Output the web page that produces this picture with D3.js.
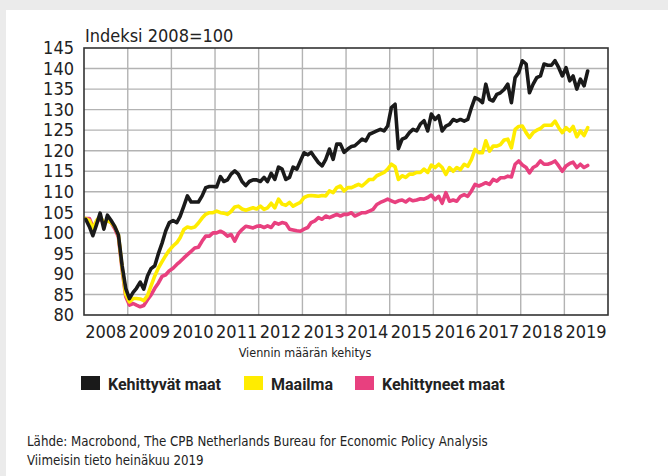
<!DOCTYPE html>
<html>
<head>
<meta charset="utf-8">
<script src="https://cdn.jsdelivr.net/npm/d3@7"></script>
<style>
body { margin: 0; background: #ebebeb; }
text { font-family: "DejaVu Sans Condensed", "Roboto", sans-serif; fill: #222; }
</style>
</head>
<body>
<div id="root"></div>
<script>
var width = 668;
var height = 476;

// monthly data, Jan 2008 - Jul 2019
var startYear = 2008;
var years = ["2008","2009","2010","2011","2012","2013","2014","2015","2016","2017","2018","2019"];
var yTicks = [80,85,90,95,100,105,110,115,120,125,130,135,140,145];

var kehittyvat = [
103.3,101.5,99.3,102,104.8,100.9,104.3,103,101.5,99.5,92,86.5,
84,85.5,86.5,88,86.3,89.5,91.3,92,95,97.5,100.5,102.5,
103,102.5,104,106.5,109,107.5,107.5,107.5,109,111,111.3,111.3,
111.2,113.7,112.5,112.9,114.3,115.1,114.3,112.5,111.5,112.5,112.9,112.9,
112.5,113.5,112.5,114.5,113,116,115.5,113,113.5,116,115.5,117.5,
119.5,119,119.6,118.3,117.1,116.3,117.9,120.4,117.9,121.6,121.6,119.6,
120.4,121,121.2,122,122.8,122.4,124,124.4,124.8,125.2,124.8,126,
130.5,131.3,120.5,122.8,123.2,124.4,125.2,124.8,126.5,127.3,124.8,128.9,
127.6,128.5,124.8,126,126.4,127.6,127.2,127.6,127.2,127.6,130.5,132.9,
132.5,131.7,136.2,132.5,132.1,133.7,134.1,134.9,136.2,131.7,137.8,139,
141.9,141.1,134.1,136.2,137.8,138.2,141.1,140.8,140.8,141.9,140.2,138.2,
140.2,137,138.2,135,137.4,135.8,139.4
];

var maailma = [
103.5,103,101,103,104,102.5,103,102.5,101.5,99.5,91.5,85,
83.2,84,84,83.9,83.5,84.7,87.1,89.5,91.5,93,94.5,95.8,
96.8,97.6,98.8,100.8,101.4,101.2,101.4,102.4,103.6,104.5,104.9,104.9,
105.3,104.9,104.8,104.5,105.2,106.3,106.5,105.8,105.5,105.8,106.1,105.8,
106.5,105.7,106.1,107.2,106.1,108.2,107,106.7,107.4,106.5,107,107.4,
108.6,109,109.1,109,108.9,109.1,109,110.2,109.8,111,111.4,110.2,
111,111,111.4,111.8,111.4,112.2,113,113,113.9,114.3,114.7,115.5,
116.7,116.1,113,113.9,113.5,114.3,114.3,114.7,114.7,115.5,114.7,116.5,
115.9,116.7,115.9,114.2,115.9,115,115.9,115.4,116.7,116.2,117.9,120.3,
119.5,119.5,122.4,119.9,121.1,121.1,121.5,122.6,122.8,120.7,125.2,125.9,
126,124.4,123.2,124.4,125,125.4,126.2,126.2,126.2,127.2,125.6,124.4,
125.6,124.8,125.9,123.4,124.8,123.7,125.6
];

var kehittyneet = [
103.5,103.5,101.5,102.5,103.5,102.5,103,102.5,101,99,91,84.5,
82.4,82.8,82.4,82,82.3,83.7,84.9,86.5,87.8,89.4,89.8,90.8,
91.4,92.3,93,93.9,94.7,95.5,96.3,96.5,98,99.2,99.2,100,
100,100.4,100,99.2,99.6,98,99.8,100.8,101.6,101.4,101.2,101.6,
101.7,101.3,101.7,101.3,102.5,102.1,102.5,102.3,100.9,100.7,100.5,100.4,
100.9,101.3,102.5,102.9,103.7,103.3,104.1,103.7,104.1,104.5,104.1,104.5,
104.5,104.9,104.1,104.5,104.9,104.9,105.3,105.7,106.9,107.4,107.8,108.2,
107.8,107.4,107.8,108,107.5,108.2,107.8,108,108.3,108.2,108.6,109.2,
108.1,108.9,107.2,109.8,107.7,108,107.7,108.9,109.3,108.9,110.2,111.8,
111.4,111.8,112.2,111.8,113,112.6,113.4,113.4,113.8,113.6,116.7,117.5,
116.5,115.9,114.6,115.9,116.4,117.5,116.7,116.7,117,117.5,116.3,115,
116.3,116.9,117.2,115.9,116.7,115.9,116.4
];

var seriesNames = ["Kehittyvät maat", "Maailma", "Kehittyneet maat"];
var seriesColors = ["#1a1a1a", "#ffec00", "#e8407f"];

var svg = d3.select("#root")
.append("svg")
.attr("width", width)
.attr("height", height)
.style("display", "block");

// white card on grey page
svg.append("rect")
.attr("x", 6)
.attr("y", 10)
.attr("width", width - 6)
.attr("height", height - 10)
.attr("fill", "#fff");

var x = d3.scaleTime()
.domain([new Date(startYear, 0, 1), new Date(+years[years.length - 1] + 1, 0, 1)])
.range([84, 608]);

var y = d3.scaleLinear()
.domain([80, 145])
.range([315, 48]);

function monthDate(i) {
	return new Date(startYear, i, 15);
}

/* grid lines */
var grid = svg.append("g")
.attr("stroke", "#b3b3b3")
.attr("stroke-width", 1.4);

grid.selectAll("line.h")
.data(yTicks.slice(1, -1))
.enter()
.append("line")
.attr("x1", x.range()[0])
.attr("x2", x.range()[1])
.attr("y1", function(d){ return y(d); })
.attr("y2", function(d){ return y(d); });

grid.selectAll("line.v")
.data(years.slice(1))
.enter()
.append("line")
.attr("x1", function(d){ return x(new Date(+d, 0, 1)); })
.attr("x2", function(d){ return x(new Date(+d, 0, 1)); })
.attr("y1", y.range()[0])
.attr("y2", y.range()[1]);

/* lines, drawn back to front */
var line = d3.line()
.x(function(d, i){ return x(monthDate(i)); })
.y(function(d){ return y(d); });

var allSeries = [kehittyvat, maailma, kehittyneet];
[2, 1, 0].forEach(function(k){
	svg.append("path")
	.datum(allSeries[k])
	.attr("fill", "none")
	.attr("stroke", seriesColors[k])
	.attr("stroke-width", 3.6)
	.attr("stroke-linejoin", "round")
	.attr("stroke-linecap", "round")
	.attr("d", line);
});

// plot frame
svg.append("rect")
.attr("x", x.range()[0])
.attr("y", y.range()[1])
.attr("width", x.range()[1] - x.range()[0])
.attr("height", y.range()[0] - y.range()[1])
.attr("fill", "none")
.attr("stroke", "#333")
.attr("stroke-width", 1.6);

/* y axis labels */
var yAxis = d3.axisLeft(y)
.tickValues(yTicks)
.tickSize(0)
.tickPadding(10);

svg.append("g")
.attr("transform", "translate(" + x.range()[0] + ",0)")
.call(yAxis)
.call(function(g){ g.select(".domain").remove(); })
.selectAll("text")
.style("font-family", "'DejaVu Sans Condensed', sans-serif")
.style("font-size", "18px")
.attr("fill", "#222");

/* x labels centered in each year */
svg.append("g")
.selectAll("text")
.data(years)
.enter()
.append("text")
.attr("x", function(d){ return x(new Date(+d, 6, 1)); })
.attr("y", 338)
.attr("text-anchor", "middle")
.style("font-size", "18px")
.text(function(d){ return d; });

svg.append("text")
.attr("x", 305)
.attr("y", 357)
.attr("text-anchor", "middle")
.style("font-size", "12.5px")
.text("Viennin määrän kehitys");

svg.append("text")
.attr("x", 85)
.attr("y", 42)
.style("font-size", "18px")
.text("Indeksi 2008=100");

/* legend */
var legendX = [81, 244, 355];
var legend = svg.append("g");
legend.selectAll("rect")
.data(seriesNames)
.enter()
.append("rect")
.attr("x", function(d, i){ return legendX[i]; })
.attr("y", 376)
.attr("width", 19)
.attr("height", 14)
.attr("fill", function(d, i){ return seriesColors[i]; });

legend.selectAll("text")
.data(seriesNames)
.enter()
.append("text")
.attr("x", function(d, i){ return legendX[i] + 27; })
.attr("y", 390)
.style("font-family", "Roboto, sans-serif")
.style("font-size", "16px")
.style("font-weight", "bold")
.text(function(d){ return d; });

/* source */
svg.append("text")
.attr("x", 27)
.attr("y", 446)
.style("font-size", "13.2px")
.text("Lähde: Macrobond, The CPB Netherlands Bureau for Economic Policy Analysis");

svg.append("text")
.attr("x", 27)
.attr("y", 465)
.style("font-size", "13.2px")
.text("Viimeisin tieto heinäkuu 2019");
</script>
</body>
</html>
